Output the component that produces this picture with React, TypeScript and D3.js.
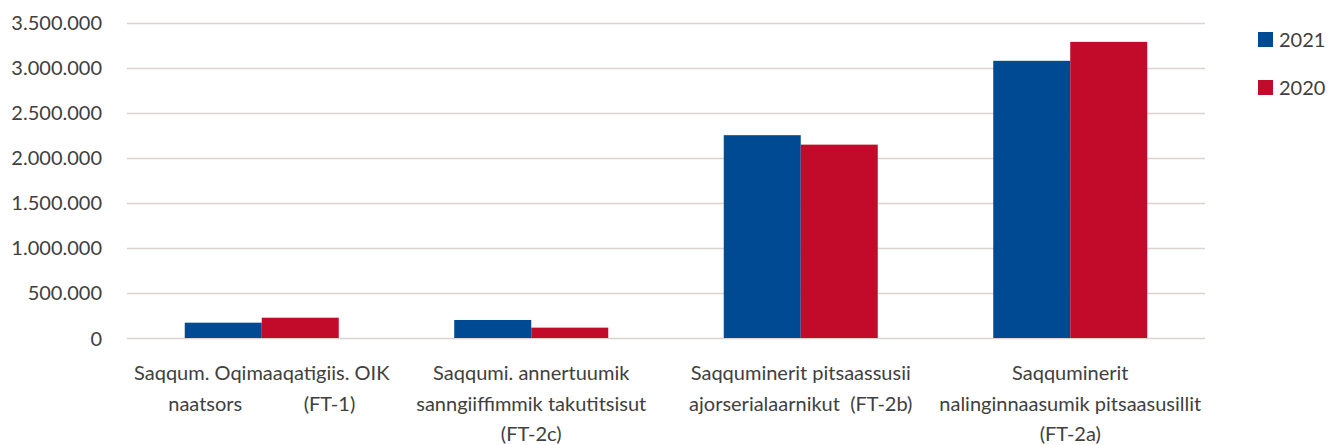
import React from "react";
import * as d3 from "d3";

const categories: string[][] = [
  ["Saqqum. Oqimaaqatigiis. OIK", "naatsors            (FT-1)"],
  ["Saqqumi. annertuumik", "sanngiiffimmik takutitsisut", "(FT-2c)"],
  ["Saqquminerit pitsaassusii", "ajorserialaarnikut  (FT-2b)"],
  ["Saqquminerit", "nalinginnaasumik pitsaasusillit", "(FT-2a)"],
];
const seriesNames = ["2021", "2020"];
const values2021 = [170000, 200000, 2250000, 3075000];
const values2020 = [225000, 115000, 2145000, 3285000];
const yTicks = [0, 500000, 1000000, 1500000, 2000000, 2500000, 3000000, 3500000];
const colors = ["#004A93", "#C20A2A"];

const W = 1330;
const H = 445;
const left = 127;
const right = 1205;
const top = 22.5;
const bottom = 338;
const FONT = "Lato, 'Open Sans', sans-serif";
const TEXT = "#404040";

export default function App() {
  const x0 = d3
    .scaleBand<number>()
    .domain(d3.range(categories.length))
    .range([left, right])
    .paddingInner(0)
    .paddingOuter(0);
  const band = x0.bandwidth();
  const barW = band / 3.5;
  const x1 = d3
    .scaleBand<number>()
    .domain([0, 1])
    .range([band / 2 - barW, band / 2 + barW]);
  const y = d3.scaleLinear().domain([0, 3500000]).range([bottom, top]);
  const fmt = (v: number) => d3.format(",")(v).replace(/,/g, ".");
  const series = [values2021, values2020];

  return (
    <svg
      width={W}
      height={H}
      style={{ position: "absolute", left: 0, top: 0, background: "#fff" }}
      fontFamily={FONT}
    >
      {yTicks.map((t) => (
        <g key={t}>
          <line
            x1={left}
            x2={right}
            y1={Math.round(y(t)) + 0.5}
            y2={Math.round(y(t)) + 0.5}
            stroke="#D9D4CF"
            strokeWidth={1.3}
          />
          <text
            x={102}
            y={y(t) + 7.5}
            textAnchor="end"
            fontSize={20}
            fill={TEXT}
          >
            {fmt(t)}
          </text>
        </g>
      ))}
      {categories.map((_, i) => (
        <g key={i} transform={`translate(${x0(i)},0)`}>
          {series.map((vals, s) => (
            <rect
              key={s}
              x={x1(s)}
              width={x1.bandwidth()}
              y={y(vals[i])}
              height={bottom - y(vals[i])}
              fill={colors[s]}
            />
          ))}
        </g>
      ))}
      {categories.map((lines, i) => (
        <text
          key={i}
          textAnchor="middle"
          fontSize={20}
          fill={TEXT}
          style={{ whiteSpace: "pre" }}
        >
          {lines.map((ln, j) => (
            <tspan key={j} x={(x0(i) as number) + band / 2} y={380 + j * 30.5}>
              {ln}
            </tspan>
          ))}
        </text>
      ))}
      {seriesNames.map((n, s) => (
        <g key={n}>
          <rect x={1258} y={32 + s * 48} width={15} height={15} fill={colors[s]} />
          <text x={1279} y={47 + s * 48} fontSize={20} fill={TEXT}>
            {n}
          </text>
        </g>
      ))}
    </svg>
  );
}
